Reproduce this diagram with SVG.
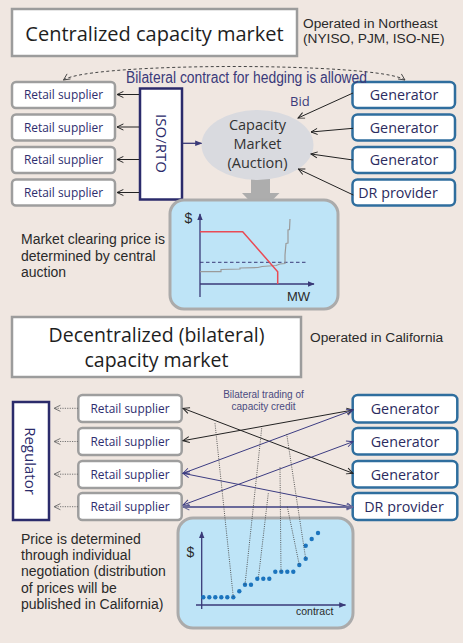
<svg xmlns="http://www.w3.org/2000/svg" width="463" height="643" viewBox="0 0 463 643">
  <style>
    .bg{fill:#F0E7E1}
    .title rect{fill:#fff;stroke:#9C9C9C;stroke-width:2.5}
    .title text{font-family:"Open Sans","DejaVu Sans",sans-serif;fill:#1E1E1E;text-anchor:middle}
    .note{font-family:"Liberation Sans",Arial,sans-serif;font-size:13.7px;fill:#2A2A2A}
    .body{font-family:"Liberation Sans",Arial,sans-serif;font-size:14px;fill:#2A2A2A}
    .retail rect{fill:#fff;stroke:#9E9E9E;stroke-width:2.5}
    .retail text{font-family:"Open Sans",sans-serif;font-size:11.9px;fill:#2E2E6E;text-anchor:middle}
    .gen rect{fill:#fff;stroke:#2F6E9E;stroke-width:2.5}
    .gen text{font-family:"Open Sans",sans-serif;font-size:14.3px;fill:#2B2B60;text-anchor:middle}
    .op rect{fill:#fff;stroke:#2B2B6B;stroke-width:2.5}
    .op text{font-family:"Open Sans",sans-serif;font-size:15px;fill:#2B2B6B;text-anchor:middle}
    .panel{fill:#BEE4F7;stroke:#ABABAB;stroke-width:3}
    .axis{stroke:#3A3A78;stroke-width:1.3;fill:none}
    .k{stroke:#222;stroke-width:1;fill:none}
    .n{stroke:#3C3C82;stroke-width:1;fill:none}
    .dot{fill:#1B74BE}
    .lead{stroke:#4A4A4A;stroke-width:0.9;stroke-dasharray:1 1.2;fill:none}
    .navytxt{font-family:"Liberation Sans",Arial,sans-serif;fill:#3A3A7A}
  </style>
  <defs>
    <marker id="ak" viewBox="0 0 10 10" refX="9" refY="5" markerWidth="8" markerHeight="8" markerUnits="userSpaceOnUse" orient="auto-start-reverse">
      <path d="M1,1.2 L9,5 L1,8.8" fill="none" stroke="#222" stroke-width="1.2"/>
    </marker>
    <marker id="an" viewBox="0 0 10 10" refX="9" refY="5" markerWidth="8" markerHeight="8" markerUnits="userSpaceOnUse" orient="auto-start-reverse">
      <path d="M1,1.2 L9,5 L1,8.8" fill="none" stroke="#3C3C82" stroke-width="1.2"/>
    </marker>
    <marker id="ap" viewBox="0 0 10 10" refX="9" refY="5" markerWidth="8" markerHeight="8" markerUnits="userSpaceOnUse" orient="auto-start-reverse">
      <path d="M1,1.2 L9,5 L1,8.8" fill="none" stroke="#6A6A9A" stroke-width="1.3"/>
    </marker>
    <marker id="ag" viewBox="0 0 10 10" refX="9" refY="5" markerWidth="8" markerHeight="8" markerUnits="userSpaceOnUse" orient="auto-start-reverse">
      <path d="M1,1.2 L9,5 L1,8.8" fill="none" stroke="#666" stroke-width="1.1"/>
    </marker>
    <marker id="ad" viewBox="0 0 10 10" refX="9" refY="5" markerWidth="8" markerHeight="8" markerUnits="userSpaceOnUse" orient="auto-start-reverse">
      <path d="M1,1.2 L9,5 L1,8.8" fill="none" stroke="#444" stroke-width="1.1"/>
    </marker>
    <marker id="tri" viewBox="0 0 10 10" refX="9" refY="5" markerWidth="7" markerHeight="7" markerUnits="userSpaceOnUse" orient="auto">
      <path d="M0,1 L10,5 L0,9 Z" fill="#3A3A78"/>
    </marker>
  </defs>

  <rect class="bg" x="0" y="0" width="463" height="643"/>

  <!-- ===== Centralized market ===== -->
  <g id="title-centralized" class="title">
    <rect x="12" y="9" width="285" height="47"/>
    <text x="154.5" y="40.5" font-size="20">Centralized capacity market</text>
  </g>
  <g id="note-northeast">
    <text class="note" x="303" y="28.3">Operated in Northeast</text>
    <text class="note" x="303" y="42.7">(NYISO, PJM, ISO-NE)</text>
  </g>

  <g id="retail-top-1" class="retail"><rect x="12" y="82" width="103" height="26" rx="4"/><text x="63.5" y="99.3">Retail supplier</text></g>
  <g id="retail-top-2" class="retail"><rect x="12" y="114.5" width="103" height="26" rx="4"/><text x="63.5" y="131.8">Retail supplier</text></g>
  <g id="retail-top-3" class="retail"><rect x="12" y="147" width="103" height="26" rx="4"/><text x="63.5" y="164.3">Retail supplier</text></g>
  <g id="retail-top-4" class="retail"><rect x="12" y="179.5" width="103" height="26" rx="4"/><text x="63.5" y="196.8">Retail supplier</text></g>

  <g id="iso-rto" class="op">
    <rect x="140" y="88.5" width="42" height="111"/>
    <text transform="translate(161,143.5) rotate(90)" y="5.3">ISO/RTO</text>
  </g>

  <!-- gray down arrow from the auction to its chart -->
  <g id="auction-result-arrow">
    <path d="M251,170 H270 V193 H279.5 L260.5,212 L242,193 H251 Z" fill="#ADADAD"/>
  </g>

  <g id="capacity-market">
    <ellipse cx="257.5" cy="145" rx="56" ry="35" fill="#D9DADF"/>
    <g font-family="'Open Sans',sans-serif" font-size="14.5" fill="#333" text-anchor="middle">
      <text x="257.5" y="129.5">Capacity</text>
      <text x="257.5" y="148.5">Market</text>
      <text x="257.5" y="168">(Auction)</text>
    </g>
  </g>

  <g id="gen-top-1" class="gen"><rect x="352.5" y="82" width="102.5" height="26" rx="5"/><text x="404" y="100">Generator</text></g>
  <g id="gen-top-2" class="gen"><rect x="352.5" y="114.5" width="102.5" height="26" rx="5"/><text x="404" y="132.5">Generator</text></g>
  <g id="gen-top-3" class="gen"><rect x="352.5" y="147" width="102.5" height="26" rx="5"/><text x="404" y="165">Generator</text></g>
  <g id="dr-top" class="gen"><rect x="352.5" y="179.5" width="102.5" height="26" rx="5"/><text x="398" y="198" font-size="15.5">DR provider</text></g>

  <g id="connectors-top">
    <path d="M63.5,80 C90,62 378,62 405,80" fill="none" stroke="#444" stroke-width="1" stroke-dasharray="3 2.5" marker-start="url(#ad)" marker-end="url(#ad)"/>
    <line class="k" x1="139" y1="94.5" x2="117" y2="94.5" marker-end="url(#ak)"/>
    <line class="k" x1="139" y1="127" x2="117" y2="127" marker-end="url(#ak)"/>
    <line class="k" x1="139" y1="159.5" x2="117" y2="159.5" marker-end="url(#ak)"/>
    <line class="k" x1="139" y1="192.5" x2="117" y2="192.5" marker-end="url(#ak)"/>
    <line x1="183" y1="143.3" x2="201.5" y2="143.3" stroke="#3A3A78" stroke-width="1.3" marker-end="url(#tri)"/>
    <line class="k" x1="353" y1="93" x2="298" y2="118" marker-end="url(#ak)"/>
    <line class="k" x1="353" y1="128.3" x2="311" y2="132" marker-end="url(#ak)"/>
    <line class="k" x1="353" y1="160" x2="311" y2="154" marker-end="url(#ak)"/>
    <line class="k" x1="353.3" y1="195" x2="298.3" y2="169" marker-end="url(#ak)"/>
  </g>
  <text class="navytxt" x="126" y="82.5" font-size="16" textLength="241" lengthAdjust="spacingAndGlyphs">Bilateral contract for hedging is allowed</text>
  <text x="290" y="105.5" font-family="'Open Sans',sans-serif" font-size="13" fill="#3A3A7A">Bid</text>

  <!-- auction clearing chart -->
  <g id="chart-auction">
    <rect class="panel" x="170" y="200" width="168" height="109" rx="14"/>
    <line class="axis" x1="200" y1="297" x2="200" y2="214" marker-end="url(#tri)"/>
    <line class="axis" x1="200" y1="284" x2="314" y2="284" marker-end="url(#tri)"/>
    <line x1="200" y1="262.3" x2="307" y2="262.3" stroke="#3A3A78" stroke-width="1" stroke-dasharray="3.5 2.5"/>
    <polyline points="200,271.7 221,271.7 221,269.5 240,269 240,268 258,267.5 262,266.5 276,265.5 280,264 285,263.5 285,255 286,243.5 288,243 288,230 289.5,229.5 290,219" fill="none" stroke="#9A9A9A" stroke-width="1.2"/>
    <polyline points="200,231.7 242.7,231.7 277.7,271.7 277.7,284" fill="none" stroke="#E94B55" stroke-width="1.5"/>
    <text x="184.5" y="223" font-family="'Liberation Sans',Arial,sans-serif" font-size="14" fill="#2A2A2A">$</text>
    <text x="287" y="301" font-family="'Liberation Sans',Arial,sans-serif" font-size="13" fill="#2A2A2A">MW</text>
  </g>
  <g id="note-central">
    <text class="body" x="21" y="244.3">Market clearing price is</text>
    <text class="body" x="21" y="260.5">determined by central</text>
    <text class="body" x="21" y="276.7">auction</text>
  </g>

  <!-- ===== Decentralized market ===== -->
  <g id="title-decentralized" class="title">
    <rect x="12" y="317" width="289" height="60"/>
    <text x="156.5" y="341.7" font-size="19.5">Decentralized (bilateral)</text>
    <text x="156.5" y="366.7" font-size="19.5">capacity market</text>
  </g>
  <text class="note" x="310" y="341.7">Operated in California</text>

  <g id="regulator" class="op">
    <rect x="13" y="402" width="36" height="118"/>
    <text transform="translate(30.5,461) rotate(90)" y="5.3">Regulator</text>
  </g>

  <g id="retail-bot-1" class="retail"><rect x="78.3" y="395" width="103.4" height="27" rx="4"/><text x="130" y="412.8">Retail supplier</text></g>
  <g id="retail-bot-2" class="retail"><rect x="78.3" y="428" width="103.4" height="27" rx="4"/><text x="130" y="445.8">Retail supplier</text></g>
  <g id="retail-bot-3" class="retail"><rect x="78.3" y="461" width="103.4" height="27" rx="4"/><text x="130" y="478.8">Retail supplier</text></g>
  <g id="retail-bot-4" class="retail"><rect x="78.3" y="493" width="103.4" height="27" rx="4"/><text x="130" y="510.8">Retail supplier</text></g>

  <g id="gen-bot-1" class="gen"><rect x="352.7" y="395" width="104.6" height="27.5" rx="5"/><text x="405" y="414">Generator</text></g>
  <g id="gen-bot-2" class="gen"><rect x="352.7" y="428" width="104.6" height="26.5" rx="5"/><text x="405" y="446.5">Generator</text></g>
  <g id="gen-bot-3" class="gen"><rect x="352.7" y="461" width="104.6" height="26.5" rx="5"/><text x="405" y="479.5">Generator</text></g>
  <g id="dr-bot" class="gen"><rect x="352.7" y="493" width="104.6" height="27" rx="5"/><text x="404" y="512">DR provider</text></g>

  <g font-family="'Liberation Sans',Arial,sans-serif" font-size="10" fill="#4A4A80" text-anchor="middle">
    <text x="263.5" y="398">Bilateral trading of</text>
    <text x="263.5" y="409.5">capacity credit</text>
  </g>

  <!-- price-per-contract chart -->
  <g id="chart-contracts">
    <rect class="panel" x="178" y="518" width="175" height="110" rx="15"/>
    <line class="axis" x1="201.7" y1="609" x2="201.7" y2="532" marker-end="url(#tri)"/>
    <line class="axis" x1="196" y1="605" x2="345.5" y2="605" marker-end="url(#tri)"/>
    <text x="186.5" y="556.7" font-family="'Liberation Sans',Arial,sans-serif" font-size="14" fill="#2A2A2A">$</text>
    <text x="296" y="615" font-family="'Liberation Sans',Arial,sans-serif" font-size="10.5" fill="#2A2A2A">contract</text>
    <g class="dot">
      <circle cx="203.3" cy="597.3" r="2.2"/><circle cx="209.3" cy="597.3" r="2.2"/><circle cx="215.3" cy="597.3" r="2.2"/>
      <circle cx="221.3" cy="597.3" r="2.2"/><circle cx="227.3" cy="597.3" r="2.2"/><circle cx="233.3" cy="597.3" r="2.2"/>
      <circle cx="239.3" cy="591.3" r="2.2"/>
      <circle cx="245" cy="584.7" r="2.2"/><circle cx="251" cy="584.7" r="2.2"/>
      <circle cx="257.3" cy="578.7" r="2.2"/><circle cx="263.3" cy="578.7" r="2.2"/><circle cx="269.3" cy="578.7" r="2.2"/>
      <circle cx="275.3" cy="571.7" r="2.2"/><circle cx="281.3" cy="571.7" r="2.2"/><circle cx="287.3" cy="571.7" r="2.2"/><circle cx="293.3" cy="571.7" r="2.2"/>
      <circle cx="299.3" cy="565" r="2.2"/>
      <circle cx="305.7" cy="558.7" r="2.2"/>
      <circle cx="305.7" cy="545.7" r="2.2"/>
      <circle cx="311.7" cy="539" r="2.2"/>
      <circle cx="318" cy="533" r="2.2"/>
    </g>
  </g>

  <g id="connectors-bottom">
    <line x1="78" y1="408.3" x2="54" y2="408.3" stroke="#666" stroke-width="0.9" stroke-dasharray="1.2 1.2" marker-end="url(#ag)"/>
    <line x1="78" y1="441.5" x2="54" y2="441.5" stroke="#666" stroke-width="0.9" stroke-dasharray="1.2 1.2" marker-end="url(#ag)"/>
    <line x1="78" y1="474.2" x2="54" y2="474.2" stroke="#666" stroke-width="0.9" stroke-dasharray="1.2 1.2" marker-end="url(#ag)"/>
    <line x1="78" y1="506.7" x2="54" y2="506.7" stroke="#666" stroke-width="0.9" stroke-dasharray="1.2 1.2" marker-end="url(#ag)"/>

    <line class="k" x1="183" y1="408.3" x2="353" y2="473.3" marker-start="url(#ak)" marker-end="url(#ak)"/>
    <line class="k" x1="183" y1="440.7" x2="353" y2="410" marker-start="url(#ak)" marker-end="url(#ak)"/>
    <line class="n" x1="183" y1="473.3" x2="353" y2="410" marker-start="url(#an)" marker-end="url(#an)"/>
    <line class="n" x1="183" y1="473.3" x2="353" y2="507.3" marker-start="url(#an)" marker-end="url(#an)"/>
    <line class="n" x1="183" y1="505" x2="353" y2="441.7" marker-start="url(#an)" marker-end="url(#an)"/>
    <line x1="183" y1="507" x2="353" y2="507" stroke="#6A6A9A" stroke-width="1.8" marker-start="url(#ap)" marker-end="url(#ap)"/>

    <line class="lead" x1="215" y1="423.3" x2="233.3" y2="597"/>
    <line class="lead" x1="261.7" y1="428.3" x2="245" y2="584.7"/>
    <line class="lead" x1="268.3" y1="493.3" x2="258.5" y2="577"/>
    <line class="lead" x1="280" y1="467.3" x2="281" y2="571.7"/>
    <line class="lead" x1="286.7" y1="434" x2="305.7" y2="558.7"/>
    <line class="lead" x1="287.3" y1="506.7" x2="299.3" y2="565"/>
  </g>

  <g id="note-bilateral">
    <text class="body" x="21" y="543.7">Price is determined</text>
    <text class="body" x="21" y="560">through individual</text>
    <text class="body" x="21" y="576.3">negotiation (distribution</text>
    <text class="body" x="21" y="592.7">of prices will be</text>
    <text class="body" x="21" y="609">published in California)</text>
  </g>
</svg>
